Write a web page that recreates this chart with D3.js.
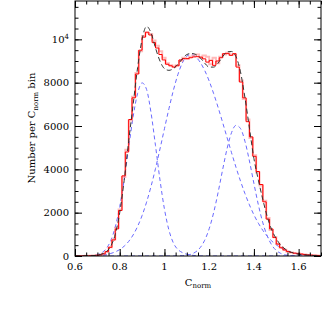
<!DOCTYPE html>
<html><head><meta charset="utf-8">
<script src="https://cdn.jsdelivr.net/npm/d3@7"></script>
<style>body{margin:0;background:#fff}svg text{font-family:"DejaVu Serif",serif;font-size:10px;fill:#000}</style>
</head><body>
<svg id="c" width="322" height="322"></svg>
<script>
// ---- data ----
const binStart = 0.6, binWidth = 0.015;
const redCounts = [5,5,5,10,10,20,30,50,100,200,400,740,1250,2100,3700,4800,6300,7300,8400,9500,
  10100,10330,10200,9850,9600,9300,9050,8850,8780,8720,8780,9050,9110,9110,9150,9190,9200,9180,9100,8950,
  9030,8800,9000,9150,9340,9340,9260,9340,8720,8030,7300,6200,5500,4600,3900,3300,2500,1700,1250,850,
  550,380,280,210,160,130,110,90,70,50,40,30,20];
const pinkCounts = [5,5,5,10,10,20,30,50,100,200,400,760,1300,2150,3650,4900,6250,7350,8450,9450,
  10150,10300,10250,9950,9700,9450,9150,8900,8800,8750,8800,9000,9150,9100,9200,9250,9300,9150,9250,9200,
  8850,9150,8900,9200,9300,9380,9300,9300,8800,8100,7250,6300,5450,4650,3850,3250,2550,1750,1200,880,
  560,390,290,200,160,130,110,90,70,50,40,30,20];
const compX = [0.60,0.62,0.64,0.66,0.68,0.70,0.72,0.74,0.76,0.78,0.80,0.82,0.84,0.86,0.88,0.90,0.92,0.94,0.96,0.98,
  1.00,1.02,1.04,1.06,1.08,1.10,1.12,1.14,1.16,1.18,1.20,1.22,1.24,1.26,1.28,1.30,1.32,1.34,1.36,1.38,
  1.40,1.42,1.44,1.46,1.48,1.50,1.52,1.54,1.56,1.58,1.60,1.62,1.64,1.66,1.68,1.70];
const comp1 = [0,0,3,10,25,61,152,346,710,1336,2280,3540,5000,6430,7510,7990,7690,6610,5090,3510,
  2165,1195,600,300,160,80,40,15,5,0,0,0,0,0,0,0,0,0,0,0,
  0,0,0,0,0,0,0,0,0,0,0,0,0,0,0,0];
const comp2 = [1,2,4,8,13,24,41,71,117,189,297,454,673,973,1368,1867,2484,3212,4038,4940,
  5876,6798,7650,8373,8913,9227,9300,9187,8939,8563,8077,7496,6855,6168,5466,4767,4092,3460,2880,2360,
  1901,1511,1182,910,690,514,379,273,194,136,94,64,43,29,19,12];
const comp3 = [0,0,0,0,0,0,0,0,0,0,0,0,0,0,0,0,0,0,0,0,
  0,1,2,6,14,36,86,191,388,728,1258,2003,2939,3977,4956,5695,6030,5885,5292,4385,
  3351,2358,1530,915,504,256,120,52,21,8,3,1,0,0,0,0];
const fitTotal = [0,1,3,5,15,40,90,200,450,1000,2000,3500,5300,7000,8700,10000,10600,10300,9600,9000,
  8650,8570,8650,8850,9100,9300,9350,9300,9150,8900,8720,8720,8900,9200,9420,9440,9200,8500,7300,5900,
  4500,3500,2600,1800,1200,800,500,320,200,130,80,55,40,25,15,10];
const xTickVals = [0.6,0.8,1.0,1.2,1.4,1.6];
const xTickLabels = ["0.6","0.8","1","1.2","1.4","1.6"];
const yTickVals = [0,2000,4000,6000,8000,10000];
const yTickLabels = ["0","2000","4000","6000","8000","10^4"];

// ---- chart ----
const L=75,R=321,T=1,B=256;
const x = d3.scaleLinear().domain([0.6,1.7]).range([L,R]);
const y = d3.scaleLinear().domain([0,11770]).range([B,T]);
const svg = d3.select("#c");
svg.append("clipPath").attr("id","clip").append("rect").attr("x",L).attr("y",T).attr("width",R-L).attr("height",B-T);
const g = svg.append("g").attr("clip-path","url(#clip)");

const smooth = d3.line().x(d=>x(d[0])).y(d=>y(d[1])).curve(d3.curveMonotoneX);
const comp = a => compX.map((cx,i)=>[cx,a[i]]);
[comp1,comp2,comp3].forEach(a=>{
  g.append("path").attr("d",smooth(comp(a))).attr("fill","none")
   .attr("stroke","#6a6aff").attr("stroke-width",1).attr("stroke-dasharray","4,3");
});
const steps = vals => { const p=[]; vals.forEach((v,i)=>{const b=binStart+i*binWidth; p.push([b,v]); p.push([b+binWidth,v]);}); return p; };
const lin = d3.line().x(d=>x(d[0])).y(d=>y(d[1]));
g.append("path").attr("d",lin(steps(pinkCounts))).attr("fill","none").attr("stroke","#ff8c8c").attr("stroke-width",2).attr("opacity",0.6);
g.append("path").attr("d",lin(steps(redCounts))).attr("fill","none").attr("stroke","#ff0000").attr("stroke-width",1);
g.append("path").attr("d",smooth(comp(fitTotal))).attr("fill","none").attr("stroke","#333").attr("stroke-width",1).attr("stroke-dasharray","5,3");

// frame
svg.append("rect").attr("x",L).attr("y",T).attr("width",R-L).attr("height",B-T).attr("fill","none").attr("stroke","#000").attr("stroke-width",1);

const xMinor = d3.range(0.6,1.7001,0.05), yMinor = d3.range(0,11770,500);
function ax(gen, tr, vals, size){
  const a = svg.append("g").attr("transform",tr).call(gen.tickValues(vals).tickSize(size).tickFormat(""));
  a.select(".domain").remove();
  a.selectAll("line").attr("stroke","#000");
}
ax(d3.axisBottom(x),`translate(0,${B})`,xMinor,-3.5);
ax(d3.axisBottom(x),`translate(0,${B})`,xTickVals,-7);
ax(d3.axisTop(x),`translate(0,${T})`,xMinor,-3.5);
ax(d3.axisTop(x),`translate(0,${T})`,xTickVals,-7);
ax(d3.axisLeft(y),`translate(${L},0)`,yMinor,-3.5);
ax(d3.axisLeft(y),`translate(${L},0)`,yTickVals,-7);
ax(d3.axisRight(y),`translate(${R},0)`,yMinor,-3.5);
ax(d3.axisRight(y),`translate(${R},0)`,yTickVals,-7);

xTickVals.forEach((v,i)=>{
  svg.append("text").attr("x",x(v)).attr("y",270).attr("text-anchor","middle").text(xTickLabels[i]);
});
yTickVals.forEach((v,i)=>{
  const t = svg.append("text").attr("x",69).attr("y",y(v)+3.6).attr("text-anchor","end");
  const lab = yTickLabels[i];
  if(lab.includes("^")){
    const [b,e] = lab.split("^");
    t.text(b); t.append("tspan").attr("font-size","7px").attr("dy",-4).text(e);
  } else t.text(lab);
});
const xt = svg.append("text").attr("x",198).attr("y",286).attr("text-anchor","middle");
xt.append("tspan").text("C");
xt.append("tspan").attr("font-size","7px").attr("dy",2).text("norm");
const yt = svg.append("text").attr("transform","translate(35,128) rotate(-90)").attr("text-anchor","middle");
yt.append("tspan").text("Number per C");
yt.append("tspan").attr("font-size","7px").attr("dy",2.5).text("norm");
yt.append("tspan").attr("dy",-2.5).text(" bin");
</script>
</body></html>
